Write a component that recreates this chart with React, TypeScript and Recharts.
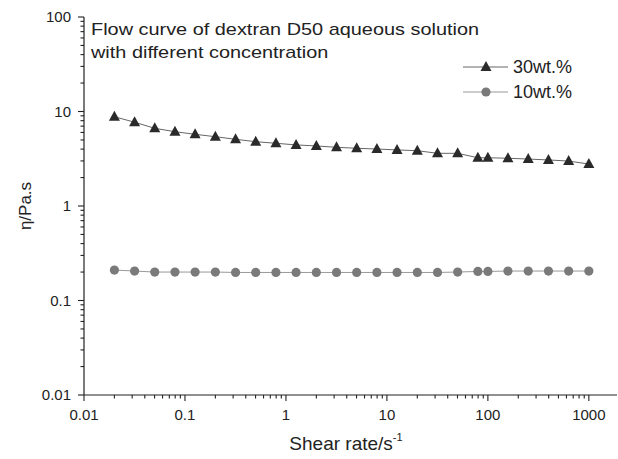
import { LineChart, Line, XAxis, YAxis, Label } from 'recharts';

// shear rate sweep, 5 points per decade, then 100..1000
const shearRate = [
  0.02, 0.0317, 0.0502, 0.0796, 0.126, 0.2, 0.317, 0.502, 0.796, 1.26, 2, 3.17, 5.02,
  7.96, 12.6, 20, 31.7, 50.2, 79.6, 100, 158, 251, 398, 631, 1000,
];
const eta30 = [
  8.8, 7.7, 6.64, 6.11, 5.74, 5.41, 5.08, 4.79, 4.61, 4.43, 4.32, 4.18, 4.08,
  4.01, 3.92, 3.85, 3.61, 3.61, 3.24, 3.24, 3.2, 3.14, 3.07, 2.99, 2.78,
];
const eta10 = [
  0.21, 0.205, 0.2, 0.2, 0.2, 0.2, 0.198, 0.198, 0.198, 0.198, 0.198, 0.198, 0.198,
  0.198, 0.198, 0.198, 0.198, 0.2, 0.203, 0.203, 0.205, 0.205, 0.205, 0.205, 0.205,
];
const seriesNames = ['30wt.%', '10wt.%'];

const xMajorTicks = [0.01, 0.1, 1, 10, 100, 1000];
const xTickLabels = ['0.01', '0.1', '1', '10', '100', '1000'];
const yMajorTicks = [0.01, 0.1, 1, 10, 100];
const yTickLabels = ['0.01', '0.1', '1', '10', '100'];
const titleLines = ['Flow curve of dextran D50 aqueous solution', 'with different concentration'];

const X_MAX = 1900;
const Y_MAX = 100;
const FONT = '"Liberation Sans", Arial, sans-serif';
const INK = '#222';

const data = shearRate.map((rate, i) => ({ rate, c30: eta30[i], c10: eta10[i] }));

// majors plus 2..9 minors in every decade
function withMinors(majors: number[], max: number) {
  const out: number[] = [];
  majors.forEach((m) => {
    for (let k = 1; k <= 9; k++) {
      const v = +(m * k).toPrecision(3);
      if (v <= max) out.push(v);
    }
  });
  return out;
}

function majorIndex(majors: number[], v: number) {
  return majors.findIndex((m) => Math.abs(m - v) / m < 1e-6);
}

const XTick = ({ x, y, payload }: any) => {
  const idx = majorIndex(xMajorTicks, payload.value);
  const len = idx >= 0 ? 6 : 3.5;
  return (
    <g>
      <line x1={x} y1={y} x2={x} y2={y + len} stroke={INK} strokeWidth={1.1} />
      {idx >= 0 && (
        <text x={x} y={y + 25} textAnchor="middle" fontSize={15} fill={INK} fontFamily={FONT}>
          {xTickLabels[idx]}
        </text>
      )}
    </g>
  );
};

const YTick = ({ x, y, payload }: any) => {
  const idx = majorIndex(yMajorTicks, payload.value);
  const len = idx >= 0 ? 6 : 3.5;
  return (
    <g>
      <line x1={x} y1={y} x2={x - len} y2={y} stroke={INK} strokeWidth={1.1} />
      {idx >= 0 && (
        <text x={x - 13} y={y + 5} textAnchor="end" fontSize={15} fill={INK} fontFamily={FONT}>
          {yTickLabels[idx]}
        </text>
      )}
    </g>
  );
};

const triangleDot = (props: any) => {
  const { cx, cy, index } = props;
  return (
    <polygon
      key={`tri-${index}`}
      points={`${cx},${cy - 6} ${cx + 5.5},${cy + 4} ${cx - 5.5},${cy + 4}`}
      fill="#2a2a2a"
    />
  );
};

const circleDot = (props: any) => {
  const { cx, cy, index } = props;
  return <circle key={`cir-${index}`} cx={cx} cy={cy} r={4.6} fill="#7a7a7a" />;
};

const LegendBox = () => (
  <div style={{ fontFamily: FONT, fontSize: 18, color: INK }}>
    {seriesNames.map((name, i) => (
      <div key={name} style={{ display: 'flex', alignItems: 'center', height: 25 }}>
        <svg width={46} height={14} style={{ marginRight: 4 }}>
          <line x1={0} y1={7} x2={45} y2={7} stroke={i === 0 ? '#666' : '#999'} strokeWidth={1} />
          {i === 0 ? (
            <polygon points="23,1 28.5,11 17.5,11" fill="#2a2a2a" />
          ) : (
            <circle cx={23} cy={7} r={4.6} fill="#7a7a7a" />
          )}
        </svg>
        <span>{name}</span>
      </div>
    ))}
  </div>
);

export default function App() {
  return (
    <div style={{ position: 'relative', width: 618, height: 459, background: '#fff' }}>
      <style>{'body{margin:0}'}</style>
      <LineChart
        width={618}
        height={459}
        data={data}
        margin={{ top: 17, right: 1, bottom: 0, left: 0 }}
      >
        <XAxis
          dataKey="rate"
          type="number"
          scale="log"
          domain={[0.01, X_MAX]}
          allowDataOverflow
          ticks={withMinors(xMajorTicks, X_MAX)}
          interval={0}
          tick={<XTick />}
          tickLine={false}
          tickSize={0}
          tickMargin={0}
          height={64}
          axisLine={{ stroke: INK, strokeWidth: 1.2 }}
        >
          <Label
            content={({ viewBox }: any) => (
              <text
                x={viewBox.x + 262}
                y={viewBox.y + 55}
                textAnchor="middle"
                fontSize={19}
                fill={INK}
                fontFamily={FONT}
              >
                Shear rate/s
                <tspan fontSize={11} dy={-9}>-1</tspan>
              </text>
            )}
          />
        </XAxis>
        <YAxis
          type="number"
          scale="log"
          domain={[0.01, Y_MAX]}
          allowDataOverflow
          ticks={withMinors(yMajorTicks, Y_MAX)}
          interval={0}
          tick={<YTick />}
          tickLine={false}
          tickSize={0}
          tickMargin={0}
          width={84}
          axisLine={{ stroke: INK, strokeWidth: 1.2 }}
        >
          <Label
            content={({ viewBox }: any) => (
              <text
                x={31}
                y={viewBox.y + viewBox.height / 2}
                textAnchor="middle"
                fontSize={17}
                fill={INK}
                fontFamily={FONT}
                transform={`rotate(-90, 31, ${viewBox.y + viewBox.height / 2})`}
              >
                η/Pa.s
              </text>
            )}
          />
        </YAxis>
        <Line
          dataKey="c30"
          name={seriesNames[0]}
          stroke="#666"
          strokeWidth={1}
          dot={triangleDot}
          isAnimationActive={false}
        />
        <Line
          dataKey="c10"
          name={seriesNames[1]}
          stroke="#999"
          strokeWidth={1}
          dot={circleDot}
          isAnimationActive={false}
        />
      </LineChart>
      <div style={{ position: 'absolute', left: 463, top: 54.5 }}>
        <LegendBox />
      </div>
      <div
        style={{
          position: 'absolute',
          left: 91,
          top: 17.5,
          fontFamily: FONT,
          fontSize: 17,
          lineHeight: '23px',
          color: INK,
          transform: 'scaleX(1.17)',
          transformOrigin: 'left top',
          whiteSpace: 'nowrap',
        }}
      >
        {titleLines.map((t) => (
          <div key={t}>{t}</div>
        ))}
      </div>
    </div>
  );
}
